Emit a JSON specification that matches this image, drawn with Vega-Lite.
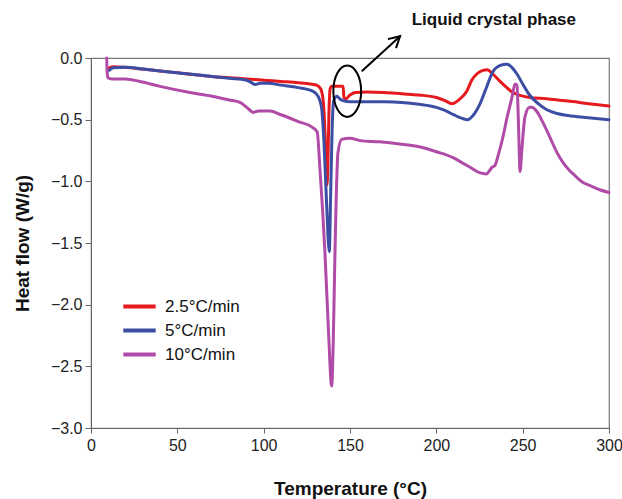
{
  "$schema": "https://vega.github.io/schema/vega-lite/v6.json",
  "width": 518,
  "height": 370,
  "autosize": {"type": "none"},
  "padding": {"left": 91, "top": 58, "right": 13, "bottom": 71},
  "background": "white",
  "config": {
    "font": "Liberation Sans",
    "view": {"stroke": "#777", "strokeWidth": 1.2},
    "axis": {"grid": false, "domainColor": "#666", "tickColor": "#666", "labelColor": "#222", "titleColor": "#111", "labelFont": "Liberation Sans", "titleFont": "Liberation Sans"}
  },
  "datasets": {
    "dsc": [
      {"T": 10.5, "HF": -0.08, "rate": "2.5°C/min"},
      {"T": 13, "HF": -0.07, "rate": "2.5°C/min"},
      {"T": 20, "HF": -0.075, "rate": "2.5°C/min"},
      {"T": 30, "HF": -0.09, "rate": "2.5°C/min"},
      {"T": 40, "HF": -0.105, "rate": "2.5°C/min"},
      {"T": 50, "HF": -0.12, "rate": "2.5°C/min"},
      {"T": 60, "HF": -0.135, "rate": "2.5°C/min"},
      {"T": 70, "HF": -0.15, "rate": "2.5°C/min"},
      {"T": 80, "HF": -0.16, "rate": "2.5°C/min"},
      {"T": 90, "HF": -0.17, "rate": "2.5°C/min"},
      {"T": 95, "HF": -0.175, "rate": "2.5°C/min"},
      {"T": 100, "HF": -0.18, "rate": "2.5°C/min"},
      {"T": 110, "HF": -0.19, "rate": "2.5°C/min"},
      {"T": 120, "HF": -0.2, "rate": "2.5°C/min"},
      {"T": 127, "HF": -0.21, "rate": "2.5°C/min"},
      {"T": 130.7, "HF": -0.22, "rate": "2.5°C/min"},
      {"T": 133, "HF": -0.25, "rate": "2.5°C/min"},
      {"T": 134.5, "HF": -0.35, "rate": "2.5°C/min"},
      {"T": 135.5, "HF": -0.6, "rate": "2.5°C/min"},
      {"T": 136.3, "HF": -0.9, "rate": "2.5°C/min"},
      {"T": 136.7, "HF": -1.03, "rate": "2.5°C/min"},
      {"T": 137.2, "HF": -0.85, "rate": "2.5°C/min"},
      {"T": 137.8, "HF": -0.45, "rate": "2.5°C/min"},
      {"T": 138.5, "HF": -0.25, "rate": "2.5°C/min"},
      {"T": 139.5, "HF": -0.23, "rate": "2.5°C/min"},
      {"T": 142, "HF": -0.23, "rate": "2.5°C/min"},
      {"T": 146, "HF": -0.23, "rate": "2.5°C/min"},
      {"T": 146.5, "HF": -0.32, "rate": "2.5°C/min"},
      {"T": 147.5, "HF": -0.33, "rate": "2.5°C/min"},
      {"T": 150, "HF": -0.3, "rate": "2.5°C/min"},
      {"T": 153, "HF": -0.28, "rate": "2.5°C/min"},
      {"T": 160, "HF": -0.275, "rate": "2.5°C/min"},
      {"T": 170, "HF": -0.28, "rate": "2.5°C/min"},
      {"T": 180, "HF": -0.29, "rate": "2.5°C/min"},
      {"T": 190, "HF": -0.3, "rate": "2.5°C/min"},
      {"T": 200, "HF": -0.32, "rate": "2.5°C/min"},
      {"T": 205, "HF": -0.345, "rate": "2.5°C/min"},
      {"T": 209, "HF": -0.37, "rate": "2.5°C/min"},
      {"T": 213, "HF": -0.34, "rate": "2.5°C/min"},
      {"T": 217.6, "HF": -0.27, "rate": "2.5°C/min"},
      {"T": 220.5, "HF": -0.18, "rate": "2.5°C/min"},
      {"T": 223.4, "HF": -0.13, "rate": "2.5°C/min"},
      {"T": 227, "HF": -0.1, "rate": "2.5°C/min"},
      {"T": 229.5, "HF": -0.095, "rate": "2.5°C/min"},
      {"T": 232, "HF": -0.12, "rate": "2.5°C/min"},
      {"T": 236.9, "HF": -0.19, "rate": "2.5°C/min"},
      {"T": 240, "HF": -0.23, "rate": "2.5°C/min"},
      {"T": 244.4, "HF": -0.28, "rate": "2.5°C/min"},
      {"T": 249, "HF": -0.305, "rate": "2.5°C/min"},
      {"T": 254, "HF": -0.32, "rate": "2.5°C/min"},
      {"T": 264, "HF": -0.33, "rate": "2.5°C/min"},
      {"T": 273, "HF": -0.345, "rate": "2.5°C/min"},
      {"T": 283, "HF": -0.36, "rate": "2.5°C/min"},
      {"T": 291, "HF": -0.375, "rate": "2.5°C/min"},
      {"T": 300, "HF": -0.39, "rate": "2.5°C/min"},

      {"T": 10.5, "HF": -0.1, "rate": "5°C/min"},
      {"T": 13, "HF": -0.08, "rate": "5°C/min"},
      {"T": 20, "HF": -0.075, "rate": "5°C/min"},
      {"T": 30, "HF": -0.09, "rate": "5°C/min"},
      {"T": 40, "HF": -0.105, "rate": "5°C/min"},
      {"T": 50, "HF": -0.12, "rate": "5°C/min"},
      {"T": 57, "HF": -0.13, "rate": "5°C/min"},
      {"T": 70, "HF": -0.15, "rate": "5°C/min"},
      {"T": 80, "HF": -0.165, "rate": "5°C/min"},
      {"T": 90, "HF": -0.18, "rate": "5°C/min"},
      {"T": 93, "HF": -0.2, "rate": "5°C/min"},
      {"T": 95, "HF": -0.215, "rate": "5°C/min"},
      {"T": 98, "HF": -0.205, "rate": "5°C/min"},
      {"T": 103, "HF": -0.205, "rate": "5°C/min"},
      {"T": 110, "HF": -0.22, "rate": "5°C/min"},
      {"T": 120, "HF": -0.24, "rate": "5°C/min"},
      {"T": 128.6, "HF": -0.27, "rate": "5°C/min"},
      {"T": 131.5, "HF": -0.31, "rate": "5°C/min"},
      {"T": 133.5, "HF": -0.4, "rate": "5°C/min"},
      {"T": 135, "HF": -0.7, "rate": "5°C/min"},
      {"T": 136.5, "HF": -1.2, "rate": "5°C/min"},
      {"T": 138, "HF": -1.57, "rate": "5°C/min"},
      {"T": 138.8, "HF": -1.1, "rate": "5°C/min"},
      {"T": 139.6, "HF": -0.6, "rate": "5°C/min"},
      {"T": 140.5, "HF": -0.35, "rate": "5°C/min"},
      {"T": 142.5, "HF": -0.31, "rate": "5°C/min"},
      {"T": 144, "HF": -0.33, "rate": "5°C/min"},
      {"T": 146, "HF": -0.345, "rate": "5°C/min"},
      {"T": 150, "HF": -0.355, "rate": "5°C/min"},
      {"T": 160, "HF": -0.355, "rate": "5°C/min"},
      {"T": 170, "HF": -0.355, "rate": "5°C/min"},
      {"T": 180, "HF": -0.36, "rate": "5°C/min"},
      {"T": 190, "HF": -0.375, "rate": "5°C/min"},
      {"T": 200, "HF": -0.4, "rate": "5°C/min"},
      {"T": 205, "HF": -0.425, "rate": "5°C/min"},
      {"T": 210, "HF": -0.46, "rate": "5°C/min"},
      {"T": 215, "HF": -0.49, "rate": "5°C/min"},
      {"T": 218, "HF": -0.5, "rate": "5°C/min"},
      {"T": 221, "HF": -0.47, "rate": "5°C/min"},
      {"T": 225, "HF": -0.38, "rate": "5°C/min"},
      {"T": 229, "HF": -0.24, "rate": "5°C/min"},
      {"T": 232.8, "HF": -0.11, "rate": "5°C/min"},
      {"T": 237, "HF": -0.06, "rate": "5°C/min"},
      {"T": 240.9, "HF": -0.05, "rate": "5°C/min"},
      {"T": 244, "HF": -0.08, "rate": "5°C/min"},
      {"T": 246.7, "HF": -0.13, "rate": "5°C/min"},
      {"T": 250, "HF": -0.21, "rate": "5°C/min"},
      {"T": 254, "HF": -0.3, "rate": "5°C/min"},
      {"T": 259, "HF": -0.37, "rate": "5°C/min"},
      {"T": 264, "HF": -0.42, "rate": "5°C/min"},
      {"T": 270, "HF": -0.45, "rate": "5°C/min"},
      {"T": 275, "HF": -0.465, "rate": "5°C/min"},
      {"T": 285, "HF": -0.48, "rate": "5°C/min"},
      {"T": 300, "HF": -0.5, "rate": "5°C/min"},

      {"T": 9.1, "HF": 0.0, "rate": "10°C/min"},
      {"T": 9.3, "HF": -0.1, "rate": "10°C/min"},
      {"T": 9.8, "HF": -0.16, "rate": "10°C/min"},
      {"T": 12, "HF": -0.17, "rate": "10°C/min"},
      {"T": 20, "HF": -0.17, "rate": "10°C/min"},
      {"T": 28.4, "HF": -0.19, "rate": "10°C/min"},
      {"T": 40, "HF": -0.23, "rate": "10°C/min"},
      {"T": 57.3, "HF": -0.28, "rate": "10°C/min"},
      {"T": 70, "HF": -0.31, "rate": "10°C/min"},
      {"T": 80, "HF": -0.34, "rate": "10°C/min"},
      {"T": 86.3, "HF": -0.36, "rate": "10°C/min"},
      {"T": 90.2, "HF": -0.4, "rate": "10°C/min"},
      {"T": 94, "HF": -0.44, "rate": "10°C/min"},
      {"T": 97, "HF": -0.43, "rate": "10°C/min"},
      {"T": 103.7, "HF": -0.43, "rate": "10°C/min"},
      {"T": 110, "HF": -0.46, "rate": "10°C/min"},
      {"T": 121, "HF": -0.52, "rate": "10°C/min"},
      {"T": 128, "HF": -0.56, "rate": "10°C/min"},
      {"T": 131, "HF": -0.6, "rate": "10°C/min"},
      {"T": 132.6, "HF": -0.9, "rate": "10°C/min"},
      {"T": 135.5, "HF": -1.58, "rate": "10°C/min"},
      {"T": 137.5, "HF": -2.2, "rate": "10°C/min"},
      {"T": 139.4, "HF": -2.66, "rate": "10°C/min"},
      {"T": 140.3, "HF": -2.3, "rate": "10°C/min"},
      {"T": 141.3, "HF": -1.58, "rate": "10°C/min"},
      {"T": 143, "HF": -0.77, "rate": "10°C/min"},
      {"T": 145.2, "HF": -0.66, "rate": "10°C/min"},
      {"T": 150, "HF": -0.65, "rate": "10°C/min"},
      {"T": 155.8, "HF": -0.67, "rate": "10°C/min"},
      {"T": 167, "HF": -0.68, "rate": "10°C/min"},
      {"T": 180, "HF": -0.7, "rate": "10°C/min"},
      {"T": 190, "HF": -0.72, "rate": "10°C/min"},
      {"T": 200, "HF": -0.76, "rate": "10°C/min"},
      {"T": 210, "HF": -0.81, "rate": "10°C/min"},
      {"T": 215, "HF": -0.85, "rate": "10°C/min"},
      {"T": 220, "HF": -0.89, "rate": "10°C/min"},
      {"T": 225, "HF": -0.93, "rate": "10°C/min"},
      {"T": 229, "HF": -0.94, "rate": "10°C/min"},
      {"T": 231, "HF": -0.91, "rate": "10°C/min"},
      {"T": 232, "HF": -0.89, "rate": "10°C/min"},
      {"T": 234, "HF": -0.87, "rate": "10°C/min"},
      {"T": 236, "HF": -0.78, "rate": "10°C/min"},
      {"T": 238.6, "HF": -0.64, "rate": "10°C/min"},
      {"T": 241, "HF": -0.48, "rate": "10°C/min"},
      {"T": 243.8, "HF": -0.32, "rate": "10°C/min"},
      {"T": 245.6, "HF": -0.21, "rate": "10°C/min"},
      {"T": 246.7, "HF": -0.22, "rate": "10°C/min"},
      {"T": 247.5, "HF": -0.5, "rate": "10°C/min"},
      {"T": 248.5, "HF": -0.92, "rate": "10°C/min"},
      {"T": 249.5, "HF": -0.75, "rate": "10°C/min"},
      {"T": 251.3, "HF": -0.48, "rate": "10°C/min"},
      {"T": 254, "HF": -0.4, "rate": "10°C/min"},
      {"T": 255.4, "HF": -0.4, "rate": "10°C/min"},
      {"T": 258, "HF": -0.43, "rate": "10°C/min"},
      {"T": 262, "HF": -0.53, "rate": "10°C/min"},
      {"T": 266, "HF": -0.65, "rate": "10°C/min"},
      {"T": 270, "HF": -0.77, "rate": "10°C/min"},
      {"T": 273, "HF": -0.84, "rate": "10°C/min"},
      {"T": 277, "HF": -0.91, "rate": "10°C/min"},
      {"T": 280, "HF": -0.95, "rate": "10°C/min"},
      {"T": 285, "HF": -1.01, "rate": "10°C/min"},
      {"T": 290, "HF": -1.04, "rate": "10°C/min"},
      {"T": 295, "HF": -1.07, "rate": "10°C/min"},
      {"T": 300, "HF": -1.09, "rate": "10°C/min"}
    ],
    "ellipse": [{"T": 148.4, "HF": -0.269}],
    "arrow": [{"T": 156.8, "HF": -0.107}, {"T": 179.0, "HF": 0.177}],
    "arrowhead": [{"T": 179.0, "HF": 0.177}],
    "label": [{"T": 185.7, "HF": 0.312, "text": "Liquid crystal phase"}]
  },
  "encoding": {
    "x": {"field": "T", "type": "quantitative",
      "scale": {"domain": [0, 300], "nice": false, "zero": false},
      "axis": {"title": "Temperature (°C)", "values": [0, 50, 100, 150, 200, 250, 300], "labelFontSize": 16, "tickSize": 5, "labelPadding": 4, "titleFontSize": 19, "titleFontWeight": "bold", "titlePadding": 26, "labelFlush": false}},
    "y": {"field": "HF", "type": "quantitative",
      "scale": {"domain": [-3, 0], "nice": false, "zero": false},
      "axis": {"title": "Heat flow (W/g)", "values": [-3, -2.5, -2, -1.5, -1, -0.5, 0], "format": ".1f", "labelFontSize": 16, "tickSize": 6, "labelPadding": 3, "titleFontSize": 19, "titleFontWeight": "bold", "titlePadding": 18, "labelFlush": false}}
  },
  "layer": [
    {
      "data": {"name": "dsc"},
      "mark": {"type": "line", "strokeWidth": 3, "strokeJoin": "round", "strokeCap": "round", "interpolate": "monotone"},
      "encoding": {
        "color": {"field": "rate", "type": "nominal",
          "scale": {"domain": ["2.5°C/min", "5°C/min", "10°C/min"], "range": ["#e41a1f", "#3c4ea4", "#b14ba8"]},
          "legend": {"title": null, "orient": "none", "legendX": 40, "legendY": 240, "padding": 0,
            "symbolType": "M-2.7,0H2.7", "symbolSize": 144, "symbolStrokeWidth": 4, "labelOffset": 17,
            "labelFontSize": 17, "labelFont": "Liberation Sans", "labelColor": "#111", "rowPadding": 6}}
      }
    },
    {
      "data": {"name": "ellipse"},
      "mark": {"type": "point", "shape": "M0,-1A0.54,1,0,1,1,0,1A0.54,1,0,1,1,0,-1Z", "size": 2642, "filled": false, "stroke": "#000", "strokeWidth": 2, "opacity": 1}
    },
    {
      "data": {"name": "arrow"},
      "mark": {"type": "line", "color": "#000", "strokeWidth": 2}
    },
    {
      "data": {"name": "arrowhead"},
      "mark": {"type": "point", "shape": "M-0.55,1L0,0L0.55,1", "size": 484, "angle": 47.6, "filled": false, "stroke": "#000", "strokeWidth": 2, "opacity": 1}
    },
    {
      "data": {"name": "label"},
      "mark": {"type": "text", "align": "left", "baseline": "middle", "fontSize": 17, "fontWeight": "bold", "font": "Liberation Sans", "color": "#111"},
      "encoding": {"text": {"field": "text"}}
    }
  ]
}
